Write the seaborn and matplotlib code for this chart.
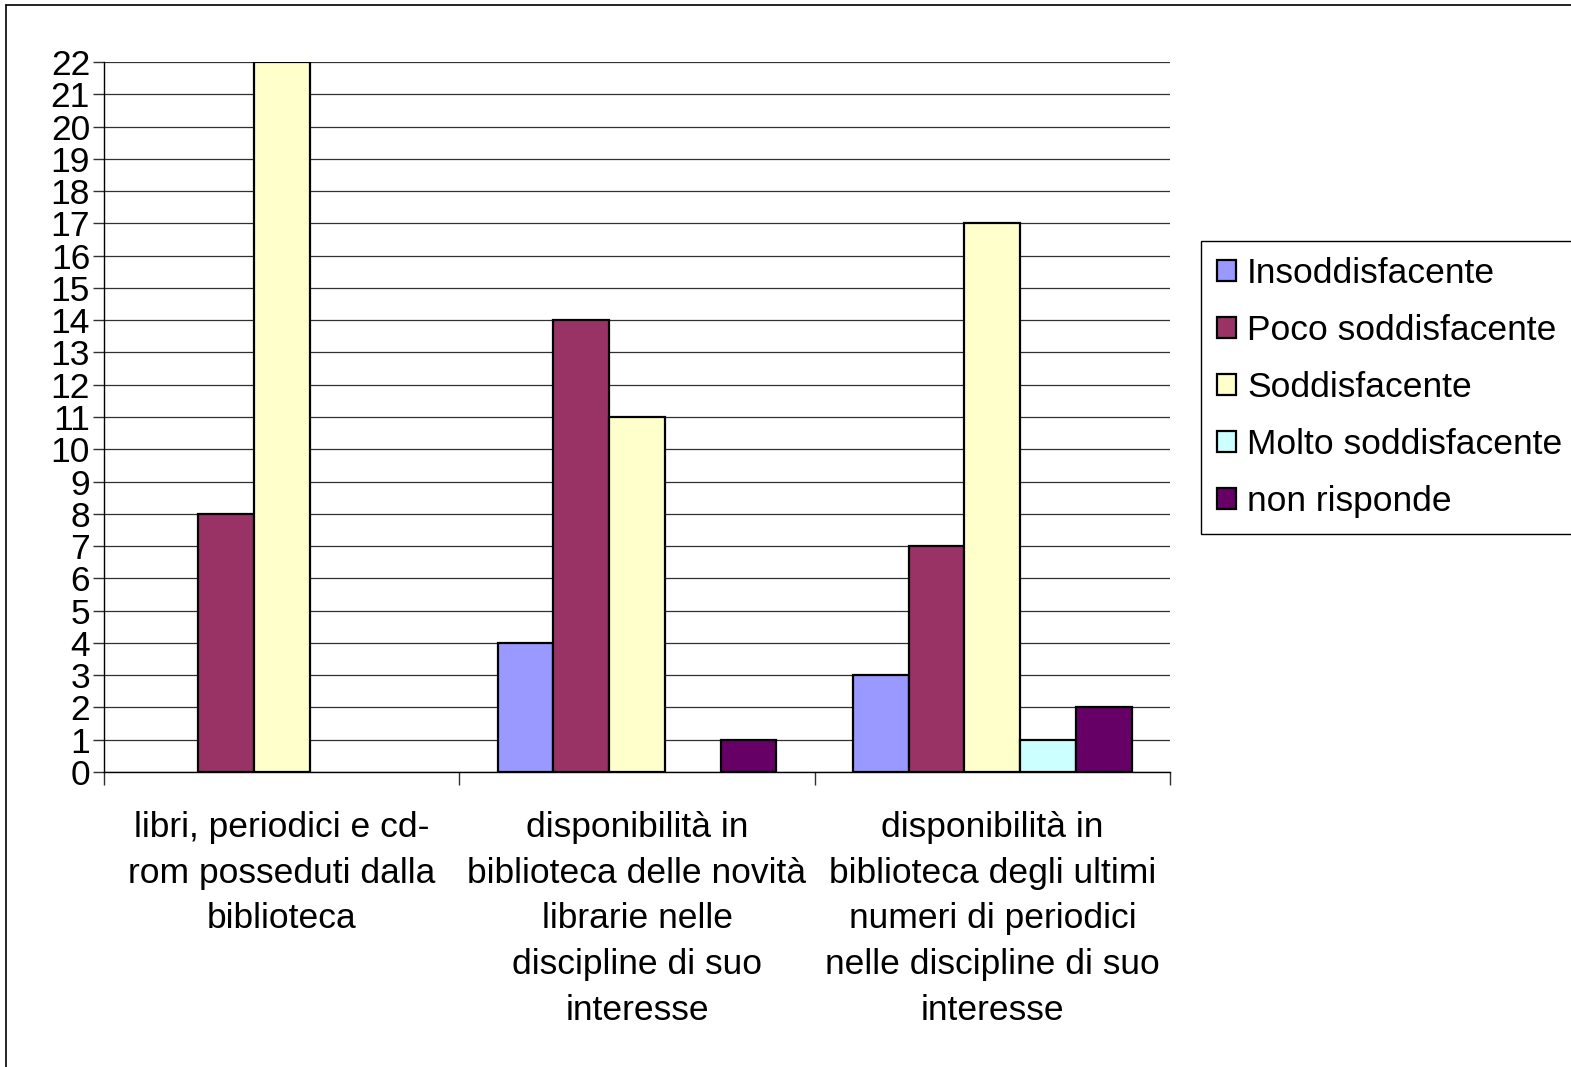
import matplotlib
matplotlib.use("Agg")
import matplotlib.pyplot as plt
from matplotlib.lines import Line2D
from matplotlib.patches import Patch
import seaborn as sns
import pandas as pd
import numpy as np

categories = [
    "libri, periodici e cd-\nrom posseduti dalla\nbiblioteca",
    "disponibilità in\nbiblioteca delle novità\nlibrarie nelle\ndiscipline di suo\ninteresse",
    "disponibilità in\nbiblioteca degli ultimi\nnumeri di periodici\nnelle discipline di suo\ninteresse",
]
series = ["Insoddisfacente", "Poco soddisfacente", "Soddisfacente",
          "Molto soddisfacente", "non risponde"]
insoddisfacente = [0, 4, 3]
poco = [8, 14, 7]
soddisfacente = [22, 11, 17]
molto = [0, 0, 1]
non_risponde = [0, 1, 2]
colors = ["#9999FF", "#993366", "#FFFFCC", "#CCFFFF", "#660066"]

values = [insoddisfacente, poco, soddisfacente, molto, non_risponde]
rows = []
for s, vals in zip(series, values):
    for c, v in zip(categories, vals):
        rows.append({"cat": c, "serie": s, "val": v})
df = pd.DataFrame(rows)

sns.set_theme(style="white")
plt.rcParams['font.family'] = ['Liberation Sans', 'DejaVu Sans']
plt.rcParams['text.color'] = 'black'
plt.rcParams['xtick.color'] = 'black'
plt.rcParams['ytick.color'] = 'black'

FS = 25.5

fig = plt.figure(figsize=(15.71, 10.67), dpi=100)
ax = fig.add_axes([104/1571, 1 - 772/1067, (1170 - 104)/1571, (772 - 62)/1067])

sns.barplot(data=df, x="cat", y="val", hue="serie", hue_order=series,
            order=categories, palette=colors, width=0.785, dodge=True,
            edgecolor="black", linewidth=1.6, errorbar=None, legend=False,
            ax=ax, saturation=1)
for p in ax.patches:
    if p.get_height() == 0:
        p.set_visible(False)

ax.set_ylim(0, 22)
ax.set_xlim(-0.5, 2.5)
ax.set_yticks(range(0, 23))
ax.yaxis.grid(True, color="#303030", linewidth=0.9)
ax.set_axisbelow(True)
ax.set_xlabel("")
ax.set_ylabel("")
for sp in ["top", "right"]:
    ax.spines[sp].set_visible(False)
for sp in ["left", "bottom"]:
    ax.spines[sp].set_color("black")
    ax.spines[sp].set_linewidth(1.0)

ax.tick_params(axis="y", which="major", direction="out", length=8, width=1,
               color="#303030", left=True, labelsize=FS, pad=2,
               labelcolor="black")
ax.set_xticks(range(3))
ax.set_xticklabels(categories, fontsize=FS, linespacing=1.49, color="black")
ax.tick_params(axis="x", which="major", length=0, pad=28)
ax.set_xticks([-0.5, 0.5, 1.5, 2.5], minor=True)
ax.tick_params(axis="x", which="minor", direction="out", length=9, width=1,
               color="#303030", bottom=True)

handles = [Patch(facecolor=c, edgecolor="black", linewidth=1.6) for c in colors]
leg = fig.legend(handles, series, loc="upper left",
                 bbox_to_anchor=(1201/1571, 1 - 241/1067),
                 frameon=True, fancybox=False, edgecolor="black",
                 fontsize=FS, handlelength=0.55, handleheight=0.55,
                 handletextpad=0.3, labelspacing=0.68, borderaxespad=0,
                 borderpad=0.45, framealpha=1)
leg.get_frame().set_linewidth(1.0)
for t in leg.get_texts():
    t.set_color("black")

fig.add_artist(Line2D([6/1571, 6/1571], [0, 1 - 5/1067], color="black",
                      linewidth=1.2, transform=fig.transFigure))
fig.add_artist(Line2D([6/1571, 1], [1 - 5/1067, 1 - 5/1067], color="black",
                      linewidth=1.2, transform=fig.transFigure))

fig.savefig("out.png", dpi=100, facecolor="white")
